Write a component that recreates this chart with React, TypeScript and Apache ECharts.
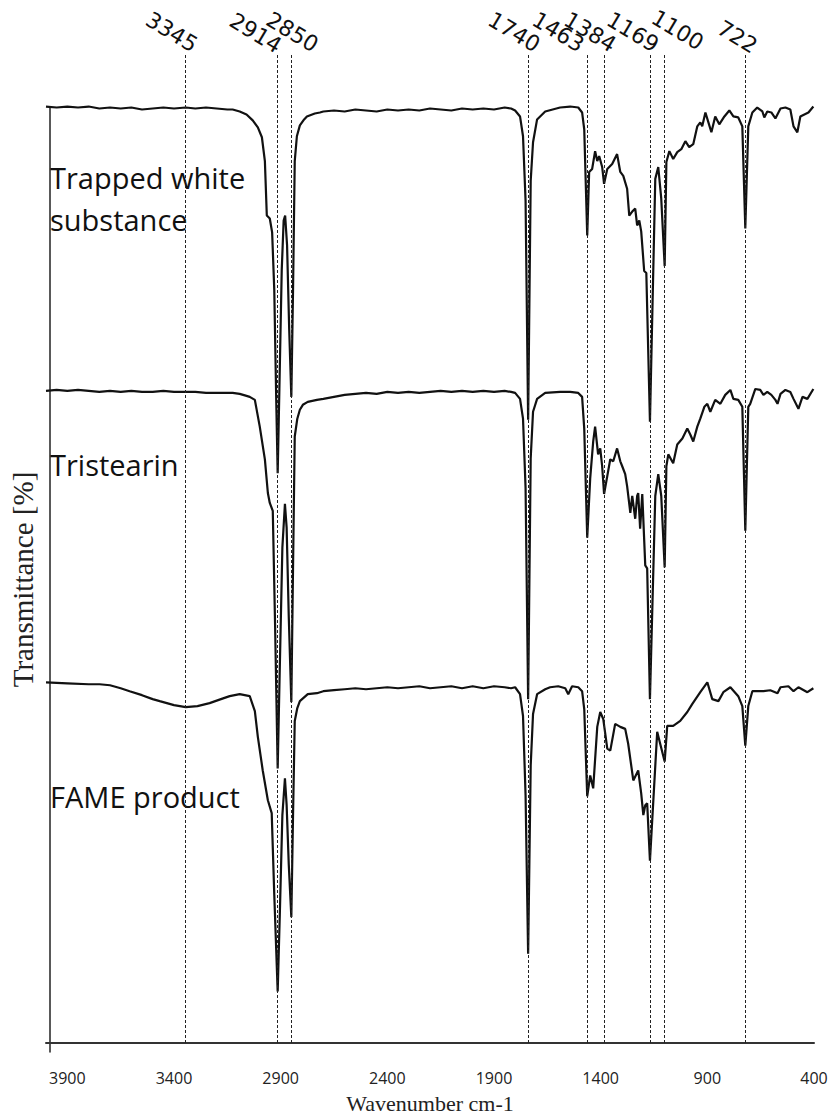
import React, { useEffect, useRef } from "react";
import * as echarts from "echarts";

// ---------- data ----------
const xTickLabels = [3900, 3400, 2900, 2400, 1900, 1400, 900, 400];
const peakLines = [3345, 2914, 2850, 1740, 1463, 1384, 1169, 1100, 722];
const seriesNames = ["Trapped white substance", "Tristearin", "FAME product"];

// [wavenumber, stacked transmittance (arb. units)]
const trapped: [number, number][] = [
  [4000, 945], [3950, 944], [3900, 945], [3850, 944], [3800, 945], [3750, 943], [3700, 944], [3650, 943],
  [3600, 944], [3550, 942], [3500, 943], [3450, 944], [3400, 943], [3345, 944], [3300, 943], [3250, 944],
  [3200, 943], [3150, 942], [3125, 942], [3092, 940], [3060, 937], [3031, 931], [3007, 924], [2988, 914],
  [2974, 890], [2965, 835], [2951, 832], [2940, 818], [2930, 760], [2920, 640], [2914, 575], [2906, 660],
  [2895, 780], [2886, 830], [2879, 835], [2870, 805], [2860, 720], [2850, 652], [2842, 760], [2834, 890],
  [2824, 915], [2810, 926], [2790, 932], [2777, 935], [2740, 938], [2716, 939], [2700, 940], [2650, 941],
  [2600, 940], [2550, 942], [2500, 941], [2450, 940], [2400, 942], [2350, 941], [2300, 942], [2250, 941],
  [2200, 943], [2150, 942], [2100, 941], [2050, 943], [2000, 942], [1950, 943], [1900, 942], [1850, 944],
  [1820, 943], [1801, 941], [1778, 935], [1764, 915], [1752, 850], [1740, 629], [1728, 870], [1717, 909],
  [1698, 932], [1660, 940], [1590, 944], [1543, 945], [1505, 944], [1487, 939], [1477, 922], [1463, 815],
  [1454, 879], [1440, 882], [1426, 900], [1416, 890], [1407, 895], [1393, 884], [1384, 867], [1369, 882],
  [1346, 887], [1323, 897], [1308, 879], [1294, 875], [1276, 862], [1266, 835], [1252, 839], [1238, 842],
  [1229, 825], [1219, 830], [1210, 819], [1196, 779], [1186, 777], [1169, 627], [1144, 872], [1130, 884],
  [1116, 852], [1100, 784], [1092, 889], [1078, 900], [1060, 892], [1041, 899], [1022, 902], [1003, 910],
  [985, 904], [966, 907], [947, 925], [933, 929], [924, 925], [909, 939], [895, 929], [881, 919],
  [863, 935], [844, 927], [820, 935], [797, 941], [778, 935], [755, 934], [736, 925], [722, 822],
  [708, 925], [689, 939], [666, 944], [642, 940], [633, 934], [619, 940], [600, 939], [581, 933],
  [557, 943], [534, 944], [511, 942], [496, 925], [478, 919], [464, 935], [445, 937], [426, 939], [403, 945],
];

const tristearin: [number, number][] = [
  [4000, 658], [3950, 659], [3900, 658], [3850, 659], [3800, 658], [3750, 657], [3700, 658], [3650, 657],
  [3600, 658], [3550, 657], [3500, 657], [3450, 658], [3400, 657], [3350, 657], [3300, 657], [3250, 656],
  [3200, 656], [3150, 656], [3125, 656], [3092, 655], [3060, 653], [3045, 652], [3021, 649], [2998, 622],
  [2974, 589], [2960, 555], [2951, 545], [2937, 537], [2926, 420], [2914, 277], [2904, 380], [2892, 500],
  [2880, 544], [2872, 520], [2862, 430], [2850, 344], [2842, 480], [2834, 612], [2822, 630], [2810, 639],
  [2796, 644], [2773, 647], [2730, 649], [2700, 650], [2650, 652], [2600, 654], [2550, 655], [2500, 656],
  [2450, 655], [2400, 657], [2350, 656], [2300, 657], [2250, 656], [2200, 657], [2150, 658], [2100, 657],
  [2050, 658], [2000, 657], [1950, 658], [1900, 657], [1850, 658], [1820, 657], [1801, 656], [1778, 650],
  [1764, 630], [1752, 560], [1740, 347], [1728, 590], [1717, 637], [1698, 650], [1660, 656], [1590, 657],
  [1543, 657], [1505, 656], [1487, 652], [1477, 620], [1463, 510], [1449, 570], [1435, 607], [1426, 622],
  [1412, 594], [1402, 600], [1393, 582], [1384, 554], [1369, 572], [1355, 589], [1341, 587], [1323, 600],
  [1308, 587], [1299, 582], [1285, 574], [1276, 562], [1261, 535], [1252, 552], [1238, 529], [1229, 552],
  [1224, 555], [1215, 519], [1205, 554], [1191, 482], [1182, 479], [1169, 347], [1144, 552], [1130, 574],
  [1116, 552], [1100, 480], [1092, 582], [1083, 594], [1060, 585], [1041, 604], [1017, 610], [994, 620],
  [980, 614], [966, 607], [947, 622], [933, 630], [914, 642], [900, 645], [886, 637], [863, 649],
  [839, 645], [816, 654], [792, 659], [778, 650], [755, 649], [736, 642], [722, 517], [708, 642],
  [699, 645], [675, 660], [652, 659], [637, 654], [619, 657], [600, 654], [581, 649], [571, 645],
  [557, 655], [534, 659], [511, 657], [496, 650], [473, 640], [454, 652], [431, 650], [403, 660],
];

const fame: [number, number][] = [
  [4000, 364], [3900, 363], [3800, 362], [3749, 362], [3700, 361], [3650, 358], [3608, 355], [3550, 351],
  [3500, 347], [3467, 345], [3400, 341], [3345, 339], [3290, 340], [3233, 343], [3180, 347], [3139, 350],
  [3092, 352], [3045, 350], [3021, 335], [3007, 309], [2984, 275], [2960, 245], [2942, 232], [2930, 150],
  [2914, 52], [2904, 130], [2892, 230], [2880, 267], [2872, 240], [2862, 180], [2850, 127], [2842, 230],
  [2834, 325], [2822, 338], [2810, 345], [2773, 352], [2730, 353], [2700, 355], [2650, 356], [2600, 357],
  [2550, 358], [2500, 357], [2450, 358], [2400, 359], [2350, 358], [2300, 359], [2250, 360], [2200, 358],
  [2150, 359], [2100, 360], [2050, 358], [2000, 360], [1950, 358], [1900, 360], [1850, 359], [1820, 358],
  [1801, 359], [1778, 352], [1764, 330], [1752, 250], [1740, 90], [1728, 280], [1717, 332], [1698, 352],
  [1660, 357], [1637, 359], [1599, 360], [1566, 358], [1552, 352], [1534, 360], [1505, 359], [1487, 355],
  [1477, 337], [1463, 249], [1449, 270], [1435, 257], [1416, 319], [1402, 334], [1388, 327], [1369, 297],
  [1355, 295], [1332, 322], [1308, 319], [1285, 317], [1271, 302], [1247, 265], [1224, 275], [1210, 252],
  [1200, 230], [1191, 240], [1182, 242], [1169, 184], [1135, 314], [1121, 302], [1100, 284], [1088, 320],
  [1060, 320], [1027, 325], [994, 334], [971, 342], [933, 354], [900, 364], [877, 347], [848, 345],
  [825, 354], [792, 359], [755, 350], [736, 340], [722, 300], [708, 340], [689, 355], [637, 355],
  [605, 356], [571, 353], [557, 359], [520, 360], [496, 355], [473, 359], [431, 354], [403, 358],
];

// ---------- layout / style ----------
const Y_MAX = 997;
const LINE_COLOR = "#111";
const peakLabelShift: [number, number][] = [
  [-14, -23], [-22, -22], [1, -23], [-14, -23], [-29, -23], [-14, -23], [-17, -23], [13, -25], [-8, -18],
];
const seriesLabelLines = [
  { text: "Trapped white", y: 177 },
  { text: "substance", y: 219 },
  { text: "Tristearin", y: 464 },
  { text: "FAME product", y: 796 },
];

export default function App() {
  const ref = useRef<HTMLDivElement>(null);
  useEffect(() => {
    const chart = echarts.init(ref.current!, null, { renderer: "svg" });
    const mkSeries = (name: string, data: [number, number][], extra: any = {}) => ({
      name,
      type: "line",
      xAxisIndex: 0,
      yAxisIndex: 0,
      data,
      symbol: "none",
      showSymbol: false,
      smooth: false,
      silent: true,
      lineStyle: { color: LINE_COLOR, width: 2.2 },
      z: 3,
      ...extra,
    });
    chart.setOption({
      animation: false,
      backgroundColor: "#fff",
      grid: [
        { left: 46, right: 20, top: 55, bottom: 67 },
        { left: 46, right: 20, top: 107, bottom: 67 },
      ],
      xAxis: [
        {
          gridIndex: 0,
          type: "value",
          min: 400,
          max: 4000,
          inverse: true,
          axisLine: { show: true, lineStyle: { color: "#333", width: 2 } },
          axisTick: { show: false, length: 0 },
          splitLine: { show: false },
          axisLabel: {
            customValues: xTickLabels,
            formatter: (v: number) => String(v),
            color: "#222",
            fontSize: 16,
            fontFamily: "Open Sans",
            margin: 27,
          },
          name: "Wavenumber cm-1",
          nameLocation: "middle",
          nameGap: 49,
          nameTextStyle: { fontFamily: "Liberation Serif", fontSize: 22, color: "#222" },
        },
        { gridIndex: 1, type: "value", min: 400, max: 4000, inverse: true, show: false },
      ],
      yAxis: [
        {
          gridIndex: 0,
          type: "value",
          min: 0,
          max: Y_MAX,
          show: false,
        },
        {
          gridIndex: 1,
          type: "value",
          min: 0,
          max: 1,
          axisLine: { show: true, lineStyle: { color: "#222", width: 1.5 } },
          axisTick: { show: false },
          axisLabel: { show: false },
          splitLine: { show: false },
          name: "Transmittance [%]",
          nameLocation: "middle",
          nameGap: 13,
          nameTextStyle: { fontFamily: "Liberation Serif", fontSize: 29, color: "#222" },
        },
      ],
      series: [
        mkSeries(seriesNames[0], trapped, {
          markLine: {
            silent: true,
            symbol: ["none", "none"],
            label: { show: false },
            lineStyle: { color: "#222", width: 1, type: [3, 2] },
            emphasis: { disabled: true },
            data: peakLines.map((v) => ({ xAxis: v })),
          },
        }),
        mkSeries(seriesNames[1], tristearin),
        mkSeries(seriesNames[2], fame),
      ],
    });

    const rot = (-31 * Math.PI) / 180;
    const peakTexts = peakLines.map((w, i) => {
      const p = chart.convertToPixel({ gridIndex: 0 } as any, [w, Y_MAX]) as number[];
      return {
        type: "text",
        x: p[0] + peakLabelShift[i][0],
        y: p[1] + peakLabelShift[i][1],
        rotation: rot,
        silent: true,
        style: {
          text: String(w),
          fontSize: 22,
          fontFamily: "DejaVu Sans",
          fill: "#111",
          align: "center",
          verticalAlign: "middle",
          textAlign: "center",
          textVerticalAlign: "middle",
        },
      };
    });
    const nameTexts = seriesLabelLines.map((l) => ({
      type: "text",
      x: 50,
      y: l.y,
      silent: true,
      style: {
        text: l.text,
        fontSize: 29,
        fontFamily: "Open Sans",
        fill: "#111",
        align: "left",
        verticalAlign: "middle",
        textAlign: "left",
        textVerticalAlign: "middle",
      },
    }));
    chart.setOption({ graphic: [...peakTexts, ...nameTexts] });
    return () => chart.dispose();
  }, []);
  return (
    <div
      ref={ref}
      style={{ position: "fixed", left: 0, top: 0, width: 834, height: 1119, background: "#fff" }}
    />
  );
}
